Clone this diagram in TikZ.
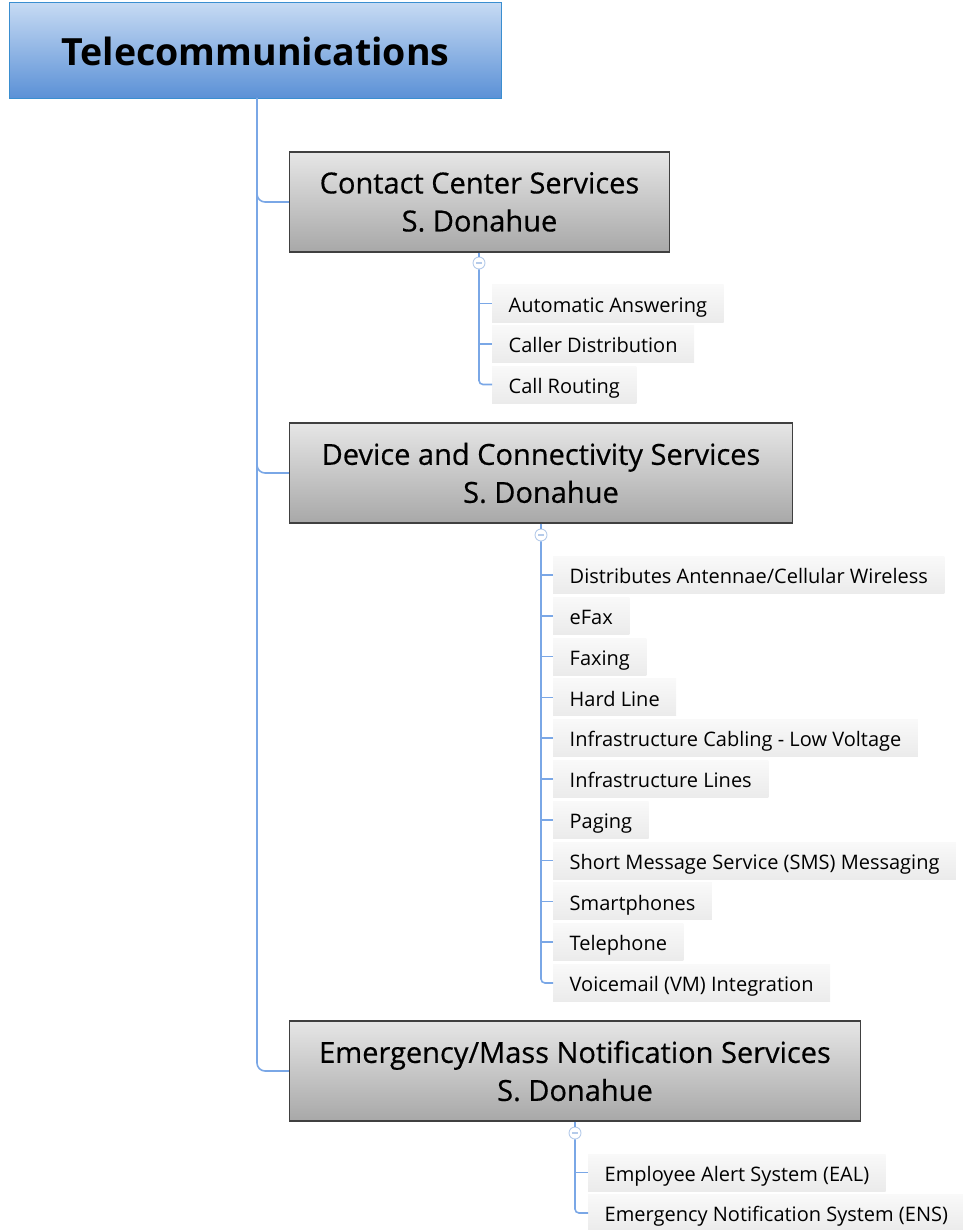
\documentclass[tikz,border=0pt]{standalone}
\usepackage{fontspec}
\setmainfont{Open Sans}
\newfontfamily\titlefont{Open Sans}
\newfontfamily\catfont[FakeBold=0.5]{Open Sans}
\usetikzlibrary{positioning}
\definecolor{lineblue}{HTML}{7AA7E6}
\definecolor{titletop}{HTML}{C6DAF3}
\definecolor{titlebot}{HTML}{5A90D6}
\definecolor{titleborder}{HTML}{3A8ED0}
\definecolor{graytop}{HTML}{E6E6E6}
\definecolor{graybot}{HTML}{A8A8A8}
\definecolor{leaftop}{HTML}{F9F9F9}
\definecolor{leafbot}{HTML}{EBEBEB}
\definecolor{togglec}{HTML}{B5CBEA}
\tikzset{
  titlebox/.style={draw=titleborder, line width=1pt, top color=titletop, bottom color=titlebot,
    minimum width=492pt, minimum height=96pt, inner sep=0pt,
    font=\titlefont\bfseries\fontsize{37.5}{44}\selectfont},
  catbox/.style={draw=black!75, line width=1.2pt, top color=graytop, bottom color=graybot,
    minimum height=100pt, inner sep=0pt, align=center,
    font=\catfont\fontsize{29}{38}\selectfont},
  leafbox/.style={top color=leaftop, bottom color=leafbot, draw=none, anchor=west,
    minimum height=37pt, inner xsep=16.5pt, inner ysep=0pt, text height=20pt, text depth=2.6pt,
    font=\fontsize{20}{24}\selectfont},
  conn/.style={draw=lineblue, line width=1.6pt, rounded corners=8pt},
  toggle/.style={circle, draw=togglec, fill=white, line width=0.9pt, minimum size=12pt, inner sep=0pt},
}
\begin{document}
\begin{tikzpicture}[x=1pt,y=-1pt]
\useasboundingbox (0,0) rectangle (962,1230);
% title
\node[titlebox] (title) at (255.5,51) {Telecommunications};
% categories
\node[catbox, minimum width=380pt] (c1) at (479.5,202) {Contact Center Services\\S. Donahue};
\node[catbox, minimum width=503pt] (c2) at (541,473) {Device and Connectivity Services\\S. Donahue};
\node[catbox, minimum width=571pt] (c3) at (575,1071) {Emergency/Mass Notification Services\\S. Donahue};
% trunk
\coordinate (t0) at (257,98);
\draw[conn] (t0) -- (257,1071) -- (c3.west);
\draw[conn] (257,190) |- (c1.west);
\draw[conn] (257,460) |- (c2.west);
% toggles
\node[toggle] (g1) at (479,263) {};
\node[toggle] (g2) at (541,535) {};
\node[toggle] (g3) at (575,1133) {};
% leaves 1
\node[leafbox] (l11) at (492,303.5) {Automatic Answering};
\node[leafbox] (l12) at (492,344) {Caller Distribution};
\node[leafbox] (l13) at (492,384.5) {Call Routing};
% leaves 2
\node[leafbox] (l21) at (553,575) {Distributes Antennae/Cellular Wireless};
\node[leafbox] (l22) at (553,615.8) {eFax};
\node[leafbox] (l23) at (553,656.6) {Faxing};
\node[leafbox] (l24) at (553,697.4) {Hard Line};
\node[leafbox] (l25) at (553,738.2) {Infrastructure Cabling - Low Voltage};
\node[leafbox] (l26) at (553,779) {Infrastructure Lines};
\node[leafbox] (l27) at (553,819.8) {Paging};
\node[leafbox] (l28) at (553,860.6) {Short Message Service (SMS) Messaging};
\node[leafbox] (l29) at (553,901.4) {Smartphones};
\node[leafbox] (l210) at (553,942.2) {Telephone};
\node[leafbox] (l211) at (553,983) {Voicemail (VM) Integration};
% leaves 3
\node[leafbox] (l31) at (588,1172.5) {Employee Alert System (EAL)};
\node[leafbox] (l32) at (588,1213) {Emergency Notification System (ENS)};
% connectors to toggles
\draw[conn] (c1.south -| g1) -- (g1.north);
\draw[conn] (c2.south -| g2) -- (g2.north);
\draw[conn] (c3.south -| g3) -- (g3.north);
% leaf connectors
\draw[conn, rounded corners=4pt] (g1.south) |- (l13.west);
\draw[conn] (l11.west -| g1) -- (l11.west);
\draw[conn] (l12.west -| g1) -- (l12.west);
\draw[conn, rounded corners=4pt] (g2.south) |- (l211.west);
\foreach \n in {l21,l22,l23,l24,l25,l26,l27,l28,l29,l210}{
  \draw[conn] (\n.west -| g2) -- (\n.west);
}
\draw[conn, rounded corners=4pt] (g3.south) |- (l32.west);
\draw[conn] (l31.west -| g3) -- (l31.west);
% minus signs in toggles
\draw[togglec, line width=1.2pt] ([xshift=-2.8pt]g1.center) -- ([xshift=2.8pt]g1.center);
\draw[togglec, line width=1.2pt] ([xshift=-2.8pt]g2.center) -- ([xshift=2.8pt]g2.center);
\draw[togglec, line width=1.2pt] ([xshift=-2.8pt]g3.center) -- ([xshift=2.8pt]g3.center);
\end{tikzpicture}
\end{document}
